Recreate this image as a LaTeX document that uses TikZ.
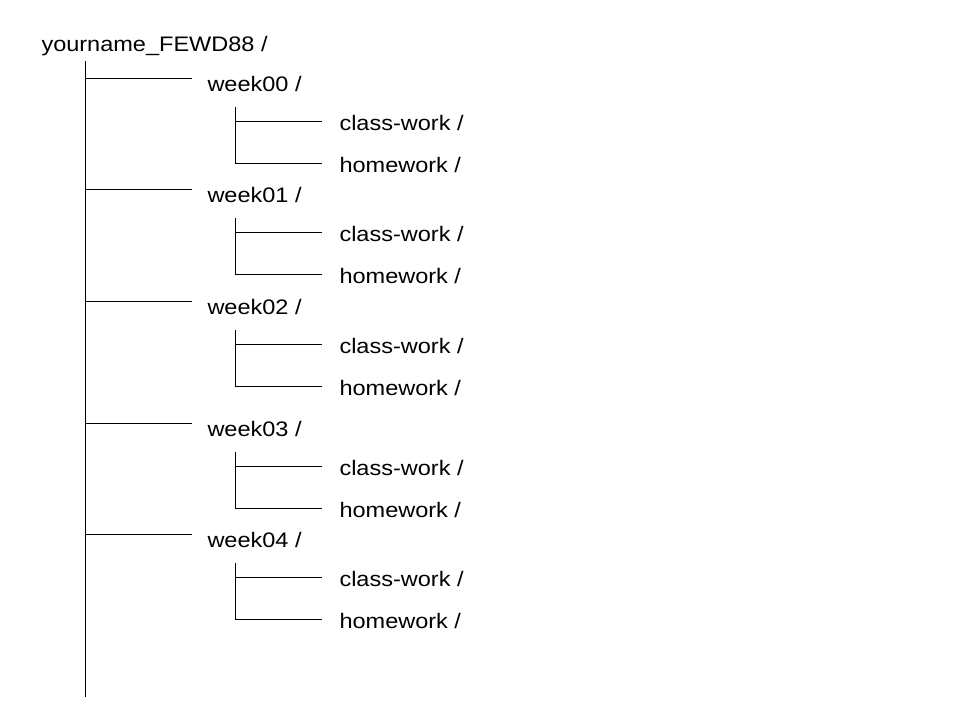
\documentclass[tikz,border=0pt]{standalone}
\usepackage{fontspec}
\setmainfont{Liberation Sans}[FakeStretch=1.12]
\usetikzlibrary{positioning}

\begin{document}
\begin{tikzpicture}[%
    x=1pt, y=-1pt,               % Work in pixels, top-down
    line width=1pt,
    ]
% -------------------------------------------------
% A few styles for the folder tree
\tikzset{
  dirname/.style={anchor=base west, inner ysep=0pt, inner xsep=0pt,
    font=\fontsize{21}{25}\selectfont},
  folder/.style={dirname, inner xsep=15pt},
  subfolder/.style={dirname, inner xsep=17.5pt},
  % Connector line style
  tree/.style={draw, black},
}
\useasboundingbox (0,0) rectangle (960,720);
% -------------------------------------------------
% Root folder and its trunk
\node [dirname] (root) at (41,51) {yourname\_FEWD88 /};
\coordinate (trunk top) at (85,61);
\coordinate (trunk end) at (85,697);
\draw [tree] (trunk top) -- (trunk end);
% -------------------------------------------------
% One branch per week, each with two subfolders
\foreach \y [count=\i from 0] in {78,189,301,423,534} {
  \coordinate (fork\i) at (85,\y);
  \node [folder] (week\i) at (192,\y+13.5) {week0\i\ /};
  \draw [tree] (fork\i) -- (fork\i -| week\i.west);
  % subfolders
  \coordinate (sub\i) at (235,\y+29);
  \coordinate (cwfork\i) at (235,\y+43.5);
  \coordinate (hwfork\i) at (235,\y+85);
  \node [subfolder] (cw\i) at (321.5,\y+52) {class-work /};
  \node [subfolder] (hw\i) at (321.5,\y+94) {homework /};
  \draw [tree] (sub\i) -- (hwfork\i) -- (hwfork\i -| hw\i.west);
  \draw [tree] (cwfork\i) -- (cwfork\i -| cw\i.west);
}
% -------------------------------------------------
\end{tikzpicture}
\end{document}
